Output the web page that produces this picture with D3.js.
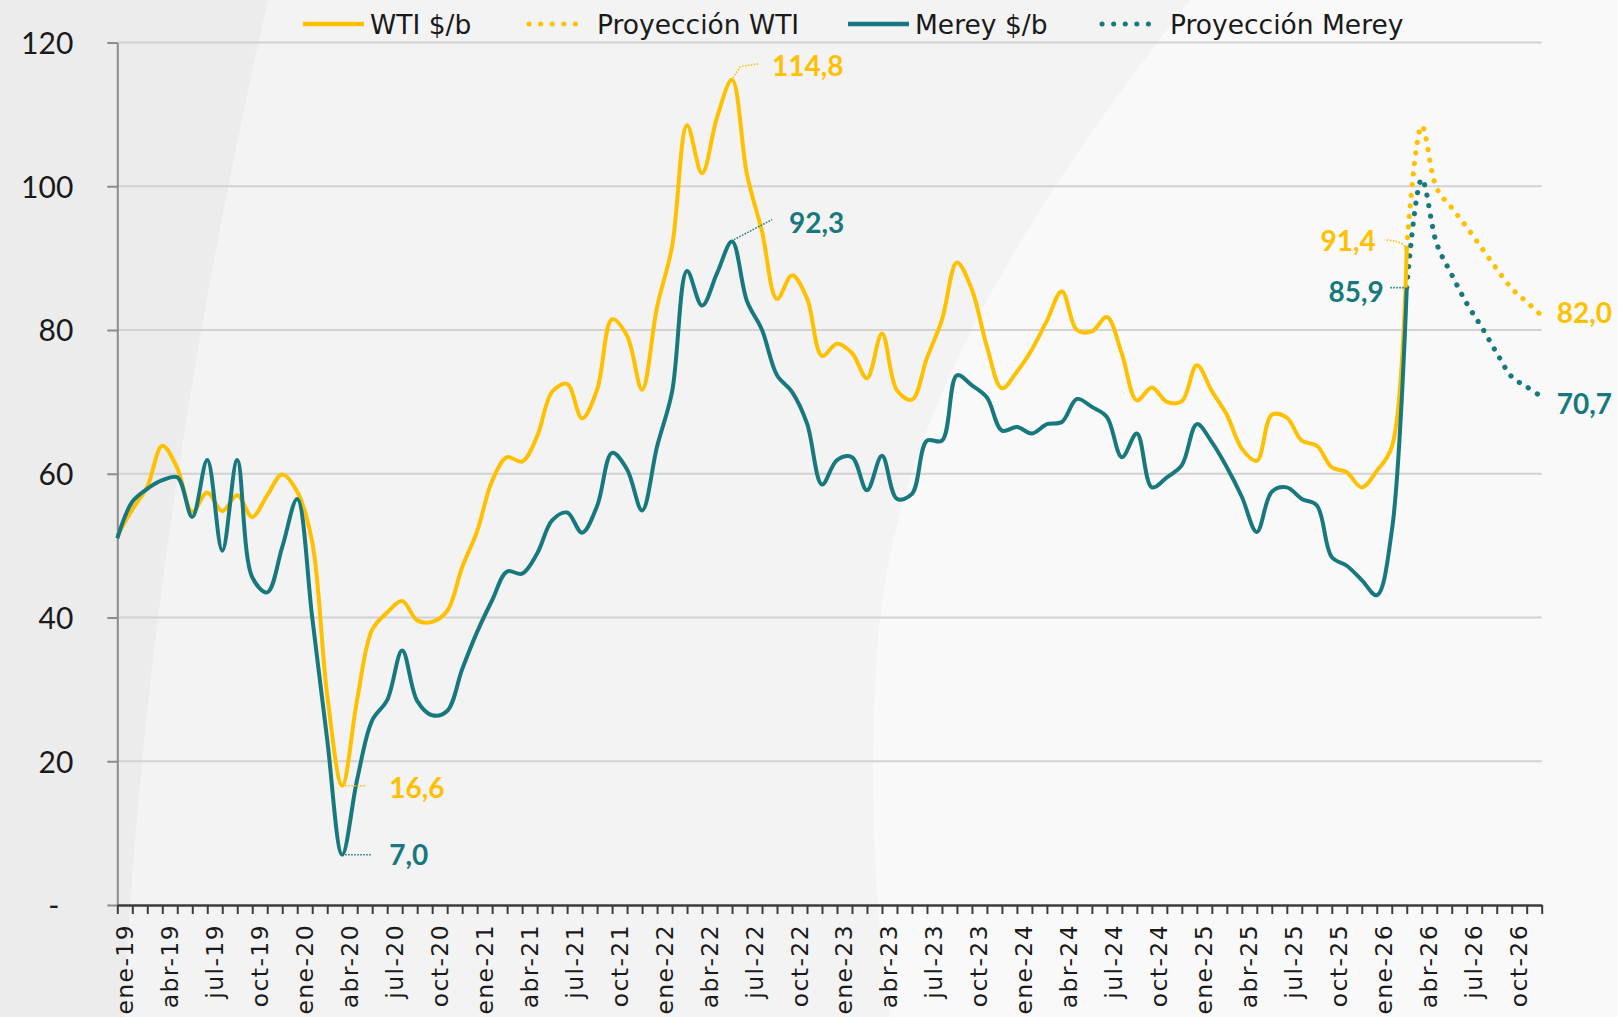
<!DOCTYPE html>
<html>
<head>
<meta charset="utf-8">
<script src="https://cdn.jsdelivr.net/npm/d3@7"></script>
<style>
  body { margin: 0; background: #f3f3f3; }
  svg { display: block; }
</style>
</head>
<body>
<script>
let width = 1618;
let height = 1017;

let wtiColor = '#FFC000';
let mereyColor = '#17797D';

// categories
let monthNames = ['ene', 'feb', 'mar', 'abr', 'may', 'jun', 'jul', 'ago', 'sep', 'oct', 'nov', 'dic'];
let years = ['19', '20', '21', '22', '23', '24', '25', '26'];
let months = years.flatMap(yr => monthNames.map(m => m + '-' + yr));

// monthly averages, ene-19 .. mar-26
let wti = [
  51.4, 55.0, 58.2, 63.9, 60.8, 54.7, 57.4, 54.8, 57.0, 54.0, 57.0, 59.9,
  57.5, 50.5, 29.2, 16.6, 28.6, 38.3, 40.7, 42.3, 39.6, 39.4, 40.9, 47.0,
  52.0, 59.0, 62.3, 61.7, 65.2, 71.4, 72.5, 67.7, 71.7, 81.5, 79.2, 71.7,
  83.2, 91.6, 108.5, 101.8, 109.6, 114.8, 101.6, 93.7, 84.3, 87.6, 84.4, 76.4,
  78.1, 76.8, 73.3, 79.5, 71.6, 70.3, 76.1, 81.4, 89.4, 85.6, 77.7, 71.9,
  74.2, 77.3, 81.3, 85.4, 80.0, 79.8, 81.8, 76.7, 70.2, 72.0, 70.0, 70.1,
  75.1, 71.5, 68.2, 63.5, 61.8, 68.2, 67.8, 64.6, 63.9, 60.9, 60.2, 58.1,
  60.4, 63.7, 91.4
];

let merey = [
  51.0, 56.1, 57.9, 59.1, 59.5, 54.0, 61.9, 49.3, 61.9, 45.6, 43.5, 49.8,
  56.5, 40.0, 23.0, 7.0, 17.5, 25.7, 28.5, 35.4, 28.4, 26.4, 27.0, 32.8,
  38.0, 42.4, 46.4, 46.1, 48.9, 53.5, 54.6, 51.8, 55.5, 62.9, 60.6, 54.9,
  63.8, 71.4, 88.2, 83.4, 87.9, 92.3, 84.0, 80.0, 73.7, 71.4, 67.0, 58.5,
  61.9, 62.3, 57.7, 62.5, 56.5, 57.2, 64.6, 64.6, 73.7, 72.3, 70.6, 66.0,
  66.5, 65.6, 66.9, 67.2, 70.4, 69.3, 67.9, 62.3, 65.6, 58.1, 59.5, 61.2,
  66.9, 64.4, 60.9, 56.8, 51.9, 57.5, 58.1, 56.5, 55.6, 48.4, 47.2, 45.2,
  43.1, 52.0, 85.9
];

// projections, mar-26 .. dic-26
let projMonths = ['mar-26', 'abr-26', 'may-26', 'jun-26', 'jul-26', 'ago-26', 'sep-26', 'oct-26', 'nov-26', 'dic-26'];
let wtiProj = [91.4, 108.4, 99.7, 97.0, 94.3, 91.4, 88.5, 85.8, 83.9, 82.0];
let mereyProj = [85.9, 101.0, 92.0, 87.7, 83.7, 80.4, 76.8, 73.5, 72.1, 70.7];

let yTicks = [0, 20, 40, 60, 80, 100, 120];

let legendLabels = ['WTI $/b', 'Proyección WTI', 'Merey $/b', 'Proyección Merey'];

// labelled points
let calloutSeries = ['WTI', 'Merey', 'WTI', 'Merey', 'WTI', 'Merey', 'WTI', 'Merey'];
let calloutMonths = ['jun-22', 'jun-22', 'abr-20', 'abr-20', 'mar-26', 'mar-26', 'dic-26', 'dic-26'];
let calloutValues = [114.8, 92.3, 16.6, 7.0, 91.4, 85.9, 82.0, 70.7];

let svg = d3.select('body')
    .append('svg')
    .attr('width', width)
    .attr('height', height);

// background shading
let bg = svg.append('g');
bg.append('rect').attr('width', width).attr('height', height).attr('fill', '#f3f3f3');
bg.append('path')
    .attr('d', 'M0,0 L268,0 C200,300 140,650 124,1017 L0,1017 Z')
    .attr('fill', '#ececec');
bg.append('path')
    .attr('d', 'M1190,0 C1010,230 895,430 878,640 C866,800 878,930 890,1017 L1618,1017 L1618,0 Z')
    .attr('fill', '#f9f9f9');

let x = d3.scalePoint()
    .domain(months)
    .range([117.3, 1541.7]);

let y = d3.scaleLinear()
    .domain([0, 120])
    .range([905, 42.5]);

// gridlines
svg.append('g')
  .selectAll('line')
    .data(yTicks.filter(d => d > 0))
  .enter().append('line')
    .attr('x1', x.range()[0])
    .attr('x2', x.range()[1])
    .attr('y1', d => y(d))
    .attr('y2', d => y(d))
    .attr('stroke', '#d2d2d2')
    .attr('stroke-width', 2);

// y axis
let yAxis = svg.append('g')
    .attr('transform', `translate(${x.range()[0]},0)`)
    .call(d3.axisLeft(y)
        .tickValues(yTicks)
        .tickSize(10)
        .tickSizeOuter(0)
        .tickFormat(d => d === 0 ? '-' : d));
yAxis.select('.domain').attr('stroke', '#8c8c8c').attr('stroke-width', 2);
yAxis.selectAll('.tick line').attr('stroke', '#8c8c8c').attr('stroke-width', 2);
yAxis.selectAll('.tick text')
    .attr('x', d => d === 0 ? -58 : -44)
    .attr('dy', '0.36em')
    .attr('fill', '#1a1a1a')
    .style('font-family', 'Lato, sans-serif')
    .style('font-size', '30px');

// x axis
let xAxis = svg.append('g')
    .attr('transform', `translate(0,${y(0)})`)
    .call(d3.axisBottom(x)
        .tickSize(9)
        .tickSizeOuter(0)
        .tickFormat((d, i) => i % 3 === 0 ? d : ''));
xAxis.select('.domain').attr('stroke', '#3c3c3c').attr('stroke-width', 2.5);
xAxis.selectAll('.tick line').attr('stroke', '#3c3c3c').attr('stroke-width', 2);
xAxis.selectAll('.tick text')
    .attr('transform', 'rotate(-90)')
    .attr('text-anchor', 'end')
    .attr('x', -19)
    .attr('y', 0)
    .attr('dy', 15)
    .attr('fill', '#1a1a1a')
    .style('font-family', '"DejaVu Sans", sans-serif')
    .style('font-size', '23.5px')
    .style('letter-spacing', '1.4px');

// lines
let line = d3.line()
    .x(d => x(d.m))
    .y(d => y(d.v))
    .curve(d3.curveCatmullRom.alpha(0.5));

let wtiData = wti.map((v, i) => ({m: months[i], v: v}));
let mereyData = merey.map((v, i) => ({m: months[i], v: v}));
let wtiProjData = wtiProj.map((v, i) => ({m: projMonths[i], v: v}));
let mereyProjData = mereyProj.map((v, i) => ({m: projMonths[i], v: v}));

let plot = svg.append('g').attr('fill', 'none');

plot.append('path')
    .datum(wtiProjData)
    .attr('d', line)
    .attr('stroke', wtiColor)
    .attr('stroke-width', 5.2)
    .attr('stroke-linecap', 'round')
    .attr('stroke-dasharray', '0.1 10.5');

plot.append('path')
    .datum(mereyProjData)
    .attr('d', line)
    .attr('stroke', mereyColor)
    .attr('stroke-width', 5.2)
    .attr('stroke-linecap', 'round')
    .attr('stroke-dasharray', '0.1 10.5');

plot.append('path')
    .datum(wtiData)
    .attr('d', line)
    .attr('stroke', wtiColor)
    .attr('stroke-width', 4);

plot.append('path')
    .datum(mereyData)
    .attr('d', line)
    .attr('stroke', mereyColor)
    .attr('stroke-width', 4);

// callouts: label offset from the point, text anchor and leader path
let calloutLayout = [
  {dx: 40, dy: -4, anchor: 'start', leader: 'M1,-2 L8,-13 L26,-16'},
  {dx: 57, dy: -9, anchor: 'start', leader: 'M2,-2 L40,-22'},
  {dx: 47, dy: 12, anchor: 'start', leader: 'M3,0 L24,0'},
  {dx: 47, dy: 10, anchor: 'start', leader: 'M3,0 L30,0'},
  {dx: -31, dy: 3, anchor: 'end', leader: 'M-2,-2 Q-8,-8 -22,-8'},
  {dx: -23, dy: 14, anchor: 'end', leader: 'M-3,0 L-17,0'},
  {dx: 15, dy: 7, anchor: 'start', leader: null},
  {dx: 15, dy: 17, anchor: 'start', leader: null}
];

let fmt = d3.format('.1f');
let callouts = svg.append('g')
  .selectAll('g')
    .data(calloutValues.map((v, i) => ({series: calloutSeries[i], m: calloutMonths[i], v: v, lay: calloutLayout[i]})))
  .enter().append('g')
    .attr('transform', d => `translate(${x(d.m)},${y(d.v)})`);

callouts.filter(d => d.lay.leader)
  .append('path')
    .attr('d', d => d.lay.leader)
    .attr('fill', 'none')
    .attr('stroke', d => d.series === 'WTI' ? wtiColor : mereyColor)
    .attr('stroke-width', 1.6)
    .attr('stroke-dasharray', '1.5 1.5');

callouts.append('text')
    .attr('x', d => d.lay.dx)
    .attr('y', d => d.lay.dy)
    .attr('text-anchor', d => d.lay.anchor)
    .attr('fill', d => d.series === 'WTI' ? wtiColor : mereyColor)
    .style('font-family', 'Lato, sans-serif')
    .style('font-weight', 'bold')
    .style('font-size', '28px')
    .text(d => fmt(d.v).replace('.', ','));

// legend
let legendX = [303, 529, 848, 1102];
let legend = svg.append('g')
  .selectAll('g')
    .data(legendLabels)
  .enter().append('g')
    .attr('transform', (d, i) => `translate(${legendX[i]},24)`);

legend.append('line')
    .attr('x1', 0)
    .attr('x2', (d, i) => i % 2 === 0 ? 61 : 58)
    .attr('stroke', (d, i) => i < 2 ? wtiColor : mereyColor)
    .attr('stroke-width', (d, i) => i % 2 === 0 ? 4.5 : 5)
    .attr('stroke-linecap', (d, i) => i % 2 === 0 ? 'butt' : 'round')
    .attr('stroke-dasharray', (d, i) => i % 2 === 0 ? null : '0.1 11.5');

legend.append('text')
    .attr('x', (d, i) => i % 2 === 0 ? 67 : 68)
    .attr('dy', '0.36em')
    .attr('fill', '#1a1a1a')
    .style('font-family', '"DejaVu Sans", sans-serif')
    .style('font-size', '26.5px')
    .text(d => d);
</script>
</body>
</html>
